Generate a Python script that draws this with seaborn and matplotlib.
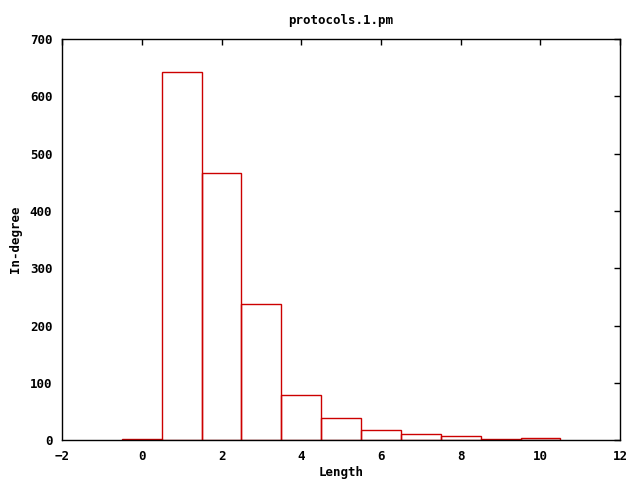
import pandas as pd
import numpy as np
import seaborn as sns
import matplotlib.pyplot as plt

lengths = [0, 1, 2, 3, 4, 5, 6, 7, 8, 9, 10]
indegree = [2, 643, 466, 237, 79, 38, 17, 10, 8, 2, 4]

df = pd.DataFrame({"length": lengths, "indegree": indegree})

sns.set_style("white")
plt.rcParams['font.family'] = ['DejaVu Sans Mono']
plt.rcParams['font.weight'] = 'bold'
plt.rcParams['font.size'] = 9
plt.rcParams['text.color'] = 'black'
plt.rcParams['axes.labelcolor'] = 'black'

fig = plt.figure(figsize=(6.4, 4.8), dpi=100)
ax = fig.add_axes([0.097, 0.083, 0.872, 0.836])

sns.histplot(data=df, x="length", weights="indegree", discrete=True,
             fill=False, color="#cc0000", linewidth=1, ax=ax)

ax.set_xlim(-2, 12)
ax.set_ylim(0, 700)
ax.set_xticks(range(-2, 13, 2))
ax.set_yticks(range(0, 701, 100))
ax.tick_params(direction="in", top=True, right=True, length=4, width=1,
               colors="black", pad=7)
for s in ax.spines.values():
    s.set_color("black")
    s.set_linewidth(1)

ax.set_title("protocols.1.pm", fontsize=9, fontweight="bold", pad=11)
ax.set_xlabel("Length", fontweight="bold", labelpad=2)
ax.set_ylabel("In-degree", fontweight="bold", labelpad=6)

plt.savefig("out.png", dpi=100)
